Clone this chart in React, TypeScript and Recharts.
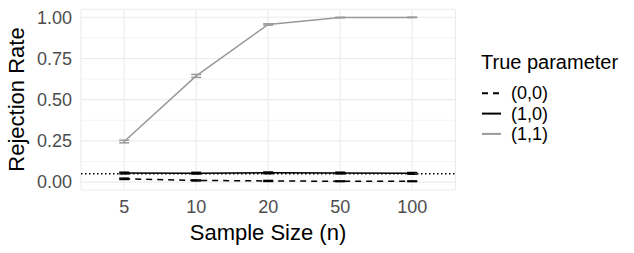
import { LineChart, Line, XAxis, YAxis, CartesianGrid, ErrorBar, ReferenceLine } from 'recharts'

const sampleSizes = ['5', '10', '20', '50', '100']
const rate00 = [0.02, 0.01, 0.007, 0.005, 0.005]
const rate10 = [0.055, 0.054, 0.056, 0.055, 0.053]
const rate11 = [0.246, 0.644, 0.956, 0.998, 0.999]
const err00 = [0.004, 0.003, 0.003, 0.002, 0.002]
const err10 = [0.005, 0.005, 0.005, 0.005, 0.005]
const err11 = [0.008, 0.009, 0.004, 0.001, 0.001]
const yTicks = [0, 0.25, 0.5, 0.75, 1]
const yMinor = [0.125, 0.375, 0.625, 0.875]
const alpha = 0.05

const legendItems = [
  { label: '(0,0)', color: '#000000', dash: '6 5' },
  { label: '(1,0)', color: '#000000', dash: undefined },
  { label: '(1,1)', color: '#999999', dash: undefined },
]

const data = sampleSizes.map((n, i) => ({
  x: i,
  n,
  p00: rate00[i],
  p10: rate10[i],
  p11: rate11[i],
  e00: err00[i],
  e10: err10[i],
  e11: err11[i],
}))

const font = '"Liberation Sans", Arial, sans-serif'
const tickStyle = { fontSize: 18, fill: '#4D4D4D', fontFamily: font }

export default function App() {
  return (
    <div style={{ position: 'absolute', left: 0, top: 0, width: 634, height: 253, background: '#fff' }}>
      <LineChart width={634} height={253} data={data} margin={{ top: 9.3, right: 178.6, bottom: 0, left: 0 }}>
        <CartesianGrid horizontalValues={yMinor} vertical={false} stroke="#EBEBEB" strokeWidth={0.55} />
        <CartesianGrid stroke="#EBEBEB" strokeWidth={1.1} />
        <XAxis
          dataKey="x"
          type="number"
          domain={[-0.6, 4.6]}
          ticks={[0, 1, 2, 3, 4]}
          tickFormatter={(v: number) => sampleSizes[v]}
          axisLine={false}
          tickLine={false}
          tickSize={0}
          tickMargin={10}
          height={63}
          tick={tickStyle}
          label={() => (
            <text x={268} y={240} textAnchor="middle" fontSize={22} fontFamily={font} fill="#000">
              Sample Size (n)
            </text>
          )}
        />
        <YAxis
          type="number"
          domain={[-0.048, 1.048]}
          ticks={yTicks}
          tickFormatter={(v: number) => v.toFixed(2)}
          axisLine={false}
          tickLine={false}
          tickSize={0}
          tickMargin={9}
          width={81}
          tick={tickStyle}
          label={() => (
            <text
              x={24}
              y={99.5}
              transform="rotate(-90 24 99.5)"
              textAnchor="middle"
              fontSize={22}
              fontFamily={font}
              fill="#000"
            >
              Rejection Rate
            </text>
          )}
        />
        <ReferenceLine y={alpha} stroke="#000" strokeWidth={1.5} strokeDasharray="1.5 2.5" />
        <Line dataKey="p00" stroke="#000" strokeWidth={1.5} strokeDasharray="6 5" dot={false} isAnimationActive={false}>
          <ErrorBar dataKey="e00" width={5} stroke="#000" strokeWidth={1.5} direction="y" />
        </Line>
        <Line dataKey="p10" stroke="#000" strokeWidth={1.5} dot={false} isAnimationActive={false}>
          <ErrorBar dataKey="e10" width={5} stroke="#000" strokeWidth={1.5} direction="y" />
        </Line>
        <Line dataKey="p11" stroke="#999999" strokeWidth={1.5} dot={false} isAnimationActive={false}>
          <ErrorBar dataKey="e11" width={5} stroke="#999999" strokeWidth={1.5} direction="y" />
        </Line>
      </LineChart>
      <svg width={634} height={253} style={{ position: 'absolute', left: 0, top: 0, pointerEvents: 'none' }}>
        <text x={481} y={69} fontSize={20} fontFamily={font} fill="#000">
          True parameter
        </text>
        {legendItems.map((item, i) => {
          const y = 93.3 + i * 20.3
          return (
            <g key={item.label}>
              <line x1={482} x2={501} y1={y} y2={y} stroke={item.color} strokeWidth={2} strokeDasharray={item.dash} />
              <text x={511} y={y + 6} fontSize={18} fontFamily={font} fill="#000">
                {item.label}
              </text>
            </g>
          )
        })}
      </svg>
    </div>
  )
}
